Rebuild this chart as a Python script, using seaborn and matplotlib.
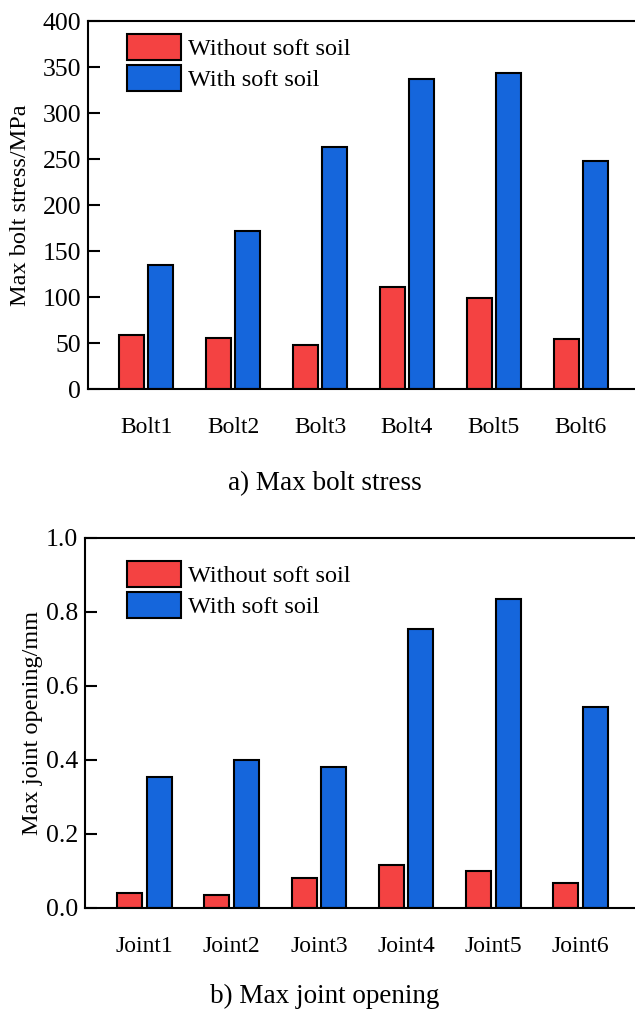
import matplotlib
matplotlib.use("Agg")
import matplotlib.pyplot as plt
import seaborn as sns
import pandas as pd
import numpy as np

# ---- data ----
bolt_labels = ["Bolt1", "Bolt2", "Bolt3", "Bolt4", "Bolt5", "Bolt6"]
bolt_without = [58.5, 55.3, 47.4, 111.0, 98.4, 54.8]
bolt_with = [135.0, 172.0, 263.0, 337.0, 344.0, 248.0]

joint_labels = ["Joint1", "Joint2", "Joint3", "Joint4", "Joint5", "Joint6"]
joint_without = [0.040, 0.036, 0.082, 0.117, 0.099, 0.068]
joint_with = [0.355, 0.399, 0.381, 0.755, 0.835, 0.544]

series_names = ["Without soft soil", "With soft soil"]
bolt_yticks = [0, 50, 100, 150, 200, 250, 300, 350, 400]
joint_yticks = [0.0, 0.2, 0.4, 0.6, 0.8, 1.0]

colors = ["#F44242", "#1566DC"]

sns.set_theme(style="white")
plt.rcParams["font.family"] = ["Liberation Serif", "DejaVu Serif"]

fig = plt.figure(figsize=(6.35, 10.14), dpi=100)
ax1 = fig.add_axes([88/635, 1-389/1014, (639-88)/635, (389-21)/1014])
ax2 = fig.add_axes([85/635, 1-908/1014, (640-85)/635, (908-538)/1014])


def make_df(cats, a, b):
    return pd.DataFrame({
        "cat": cats * 2,
        "val": list(a) + list(b),
        "series": [series_names[0]] * len(cats) + [series_names[1]] * len(cats),
    })


def draw(ax, df, yticks, ylim, ylabel, fmt, label_x, xlim, leg_anchor):
    sns.barplot(data=df, x="cat", y="val", hue="series", palette=colors,
                hue_order=series_names, width=0.678, gap=0.15,
                edgecolor="black", linewidth=1.5, ax=ax, legend=True,
                errorbar=None, saturation=1)
    ax.set_xlim(*xlim)
    ax.set_ylim(*ylim)
    ax.set_yticks(yticks)
    ax.set_yticklabels([fmt.format(v) for v in yticks], fontsize=18.5)
    ax.tick_params(axis="y", direction="in", length=8.5, width=1.5, pad=5,
                   left=True, right=False, colors="black")
    ax.tick_params(axis="x", length=0, pad=20, labelsize=17, colors="black")
    ax.set_xlabel("")
    ax.set_ylabel(ylabel, fontsize=17.5, va="center", color="black")
    ax.yaxis.set_label_coords(label_x, 0.5)
    for s in ax.spines.values():
        s.set_linewidth(1.5)
        s.set_color("black")
        s.set_visible(True)
    handles, labels = ax.get_legend_handles_labels()
    ax.legend(handles, labels, loc="upper left", frameon=False,
              bbox_to_anchor=leg_anchor, borderaxespad=0, borderpad=0,
              fontsize=17.5, handlelength=2.22, handleheight=1.25,
              handletextpad=0.3, labelspacing=0.2, labelcolor="black")


draw(ax1, make_df(bolt_labels, bolt_without, bolt_with), bolt_yticks,
     (0, 400), "Max bolt stress/MPa", "{:.0f}", -0.123, (-0.67, 5.67),
     (0.071, 0.964))
draw(ax2, make_df(joint_labels, joint_without, joint_with), joint_yticks,
     (0, 1.0), "Max joint opening/mm", "{:.1f}", -0.095, (-0.68, 5.68),
     (0.076, 0.937))

fig.text(325/635, 1-484/1014, "a) Max bolt stress", ha="center", va="center",
         fontsize=19.5, color="black")
fig.text(325/635, 1-996/1014, "b) Max joint opening", ha="center", va="center",
         fontsize=19.5, color="black")

fig.savefig("out.png", dpi=100)
